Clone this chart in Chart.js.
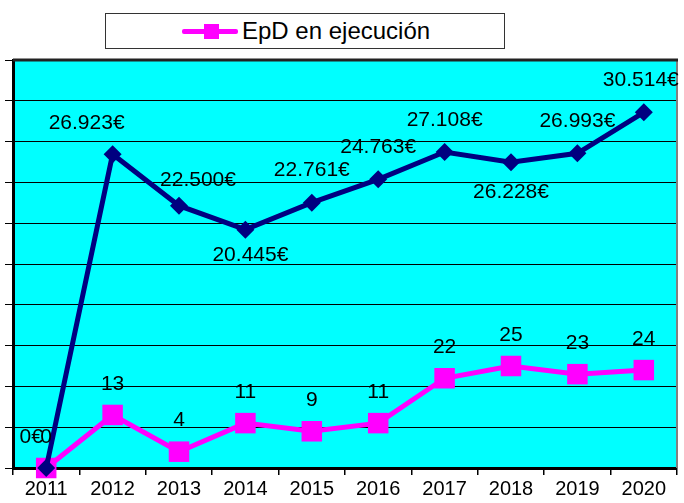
<!DOCTYPE html>
<html>
<head>
<meta charset="utf-8">
<script src="https://cdn.jsdelivr.net/npm/chart.js@4/dist/chart.umd.min.js"></script>
<style>
  html, body { margin: 0; padding: 0; background: #fff; }
  #wrap { position: relative; width: 684px; height: 503px; }
  #legend {
    position: absolute; left: 105px; top: 13px; width: 398px; height: 34px;
    border: 1px solid #333; background: #fff;
    font-family: 'Liberation Sans', Arial, sans-serif; font-size: 24px; color: #000;
  }
  #legend .line {
    position: absolute; left: 76px; top: 15px; width: 56px; height: 5px;
    background: #ff00ff; border-radius: 2px;
  }
  #legend .sq {
    position: absolute; left: 98px; top: 10px; width: 15px; height: 15px; background: #ff00ff;
  }
  #legend .txt { position: absolute; left: 136px; top: 3px; white-space: nowrap; }
</style>
</head>
<body>
<div id="wrap">
  <canvas id="myChart" width="684" height="503"></canvas>
  <div id="legend"><span class="line"></span><span class="sq"></span><span class="txt" id="legendText"></span></div>
</div>
<script>
const years = ['2011', '2012', '2013', '2014', '2015', '2016', '2017', '2018', '2019', '2020']
const importe = [0, 26923, 22500, 20445, 22761, 24763, 27108, 26228, 26993, 30514]
const epd = [0, 13, 4, 11, 9, 11, 22, 25, 23, 24]
const epdLabel = 'EpD en ejecución'

// where each euro label sits relative to its point (px)
const euroShift = [[-15, -31], [-26, -31], [19, -26], [5, 26], [0, -32], [0, -32], [0, -32], [0, 30], [0, -32], [-3, -32]]

const font = "'Liberation Sans', Arial, sans-serif"

function euro(v) {
  return String(v).replace(/\B(?=(\d{3})+(?!\d))/g, '.') + '€'
}

const frame = {
  id: 'frame',
  beforeDraw(chart) {
    const a = chart.chartArea
    const ctx = chart.ctx
    ctx.save()
    ctx.fillStyle = '#00ffff'
    ctx.fillRect(a.left, a.top, a.right - a.left, a.bottom - a.top)
    ctx.restore()
  },
  afterDatasetsDraw(chart) {
    const a = chart.chartArea
    const ctx = chart.ctx
    ctx.save()
    ctx.strokeStyle = '#808080'
    ctx.lineWidth = 2
    ctx.beginPath()
    ctx.moveTo(a.right, a.top)
    ctx.lineTo(a.right, a.bottom)
    ctx.stroke()
    ctx.strokeStyle = '#222'
    ctx.lineWidth = 3
    ctx.beginPath()
    ctx.moveTo(a.left, a.top)
    ctx.lineTo(a.right + 1, a.top)
    ctx.stroke()

    ctx.fillStyle = '#000'
    ctx.font = '21px ' + font
    ctx.textAlign = 'center'
    ctx.textBaseline = 'middle'
    const m0 = chart.getDatasetMeta(0)
    m0.data.forEach((p, i) => {
      const s = euroShift[i]
      ctx.fillText(euro(importe[i]), p.x + s[0], p.y + s[1])
    })
    const m1 = chart.getDatasetMeta(1)
    m1.data.forEach((p, i) => {
      ctx.fillText(String(epd[i]), p.x, p.y - 31)
    })
    ctx.restore()
  }
}

function initChart() {
  const ctx = document.getElementById('myChart')
  document.getElementById('legendText').textContent = epdLabel

  const data = {
    labels: years,
    datasets: [
      {
        label: 'Importe',
        data: importe,
        yAxisID: 'y',
        borderColor: '#000080',
        backgroundColor: '#000080',
        borderWidth: 5,
        pointStyle: 'rectRot',
        pointRadius: 9,
        pointBorderWidth: 0,
        tension: 0,
        clip: false,
        order: 0
      },
      {
        label: epdLabel,
        data: epd,
        yAxisID: 'y1',
        borderColor: '#ff00ff',
        backgroundColor: '#ff00ff',
        borderWidth: 5,
        pointStyle: 'rect',
        pointRadius: 14.5,
        pointBorderWidth: 0,
        tension: 0,
        clip: false,
        order: 1
      }
    ]
  }

  const config = {
    type: 'line',
    data: data,
    options: {
      responsive: false,
      animation: false,
      // big markers must not shrink the plot area
      layout: { autoPadding: false, padding: { left: 5, right: 7, top: 60, bottom: 0 } },
      plugins: {
        legend: { display: false },
        tooltip: { enabled: false }
      },
      scales: {
        x: {
          offset: true,
          grid: {
            offset: true,
            drawOnChartArea: false,
            drawTicks: true,
            tickLength: 7,
            color: '#000',
            lineWidth: 1.5
          },
          border: { color: '#000', width: 3 },
          ticks: {
            color: '#000',
            font: { family: font, size: 20 },
            padding: 2,
            maxRotation: 0
          }
        },
        y: {
          min: 0,
          max: 35000,
          ticks: { display: false, stepSize: 3500 },
          grid: { color: '#000', lineWidth: 1, drawTicks: true, tickLength: 8 },
          border: { color: '#000', width: 3 }
        },
        y1: {
          display: false,
          min: 0,
          max: 100
        }
      }
    },
    plugins: [frame]
  }
  chart = new Chart(ctx, config)
}

let chart = undefined
initChart()
</script>
</body>
</html>
